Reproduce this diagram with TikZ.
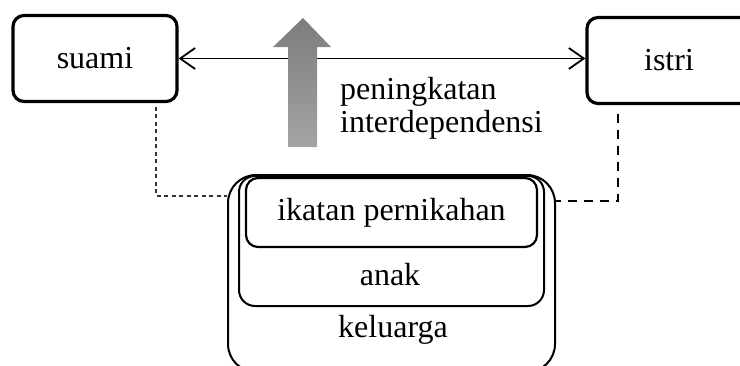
\documentclass[tikz,border=0pt]{standalone}
\usepackage{fontspec}
\setmainfont{Liberation Serif}
\usetikzlibrary{arrows.meta,positioning,calc}
\definecolor{risetop}{HTML}{7C7C7C}
\definecolor{risebot}{HTML}{A4A4A4}

\begin{document}
\begin{tikzpicture}[x=1pt, y=-1pt, every node/.style={font=\fontsize{32}{33}\selectfont},
    person/.style={draw, line width=3.2pt, rounded corners=11pt, minimum width=164pt, minimum height=86pt, inner sep=0pt},
    layer/.style={draw, line width=2pt, inner sep=0pt},
    tie/.style={{Straight Barb[length=15pt,width=21pt,line width=1.8pt]}-{Straight Barb[length=15pt,width=21pt,line width=1.8pt]}, line width=1.8pt}]
    \useasboundingbox (0,0) rectangle (740,365);

    % husband and wife
    \node[person] (suami) at (95,58.5) {suami};
    \node[person] (istri) at (669,60.5) {istri};
    \draw[tie] (suami.east) -- (suami.east -| istri.west);

    % rising interdependence
    \shade[top color=risetop, bottom color=risebot]
        (288,147) -- (288,47) -- (273,47) -- (303,18) -- (331,47) -- (317,47) -- (317,147) -- cycle;
    \node[anchor=base west, align=left, inner sep=0pt] (gain) at (340,132) {peningkatan\\interdependensi};

    % nested family layers
    \node[layer, rounded corners=28pt, minimum width=327pt, minimum height=197pt] (keluarga) at (391.5,273.5) {};
    \node[layer, rounded corners=16pt, minimum width=305pt, minimum height=130pt] (anak) at (391.5,241) {};
    \node[layer, line width=2.2pt, rounded corners=12pt, minimum width=291pt, minimum height=69pt] (ikatan) at (391.5,212.5) {ikatan pernikahan};
    \node (anaktxt) at (390,275) {anak};
    \node (keluargatxt) at (393,330) {keluarga};

    % links down to the family
    \draw[black!80, line width=1.2pt, dash pattern=on 4pt off 3.5pt] ($(suami.south)+(61,3.5)$) |- ($(keluarga.north west)+(0,22)$);
    \draw[line width=2.2pt, dash pattern=on 9pt off 7pt] ($(istri.south)+(-51,8.5)$) |- ($(keluarga.north east)+(0,27)$);
\end{tikzpicture}
\end{document}
